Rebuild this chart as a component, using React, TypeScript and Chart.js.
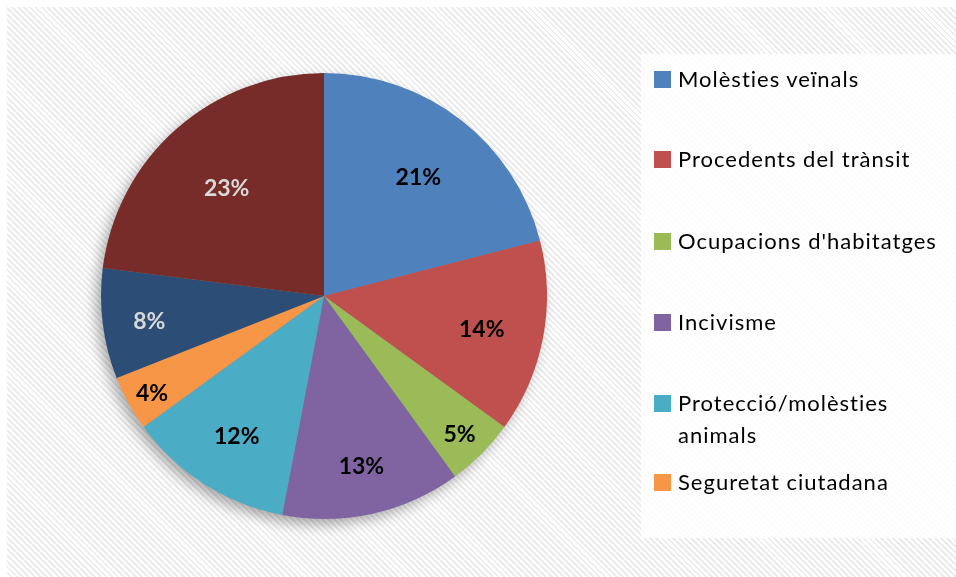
import React, { useEffect, useRef } from "react";
import { Chart, registerables } from "chart.js";

Chart.register(...registerables);

const categories = [
  "Molèsties veïnals",
  "Procedents del trànsit",
  "Ocupacions d'habitatges",
  "Incivisme",
  "Protecció/molèsties animals",
  "Seguretat ciutadana",
  "Altres",
  "Altres (2)",
];
const shares = [21, 14, 5, 13, 12, 4, 8, 23];
const legendCount = 6;

const colors = ["#4F81BD", "#C0504D", "#9BBB59", "#8064A2", "#4BACC6", "#F79646", "#2C4D75", "#772C2A"];
const labelColors = ["#000", "#000", "#000", "#000", "#000", "#000", "#D9D9D9", "#D9D9D9"];
const labelRadius = [0.69, 0.72, 0.86, 0.77, 0.73, 0.88, 0.79, 0.66];
const FONT = "Lato, 'Open Sans', sans-serif";

const shadowPlugin = {
  id: "pieShadow",
  beforeDatasetsDraw(chart: any) {
    const arc = chart.getDatasetMeta(0).data[0];
    if (!arc) return;
    const { x, y, outerRadius } = arc;
    const ctx = chart.ctx;
    ctx.save();
    ctx.shadowColor = "rgba(0,0,0,0.35)";
    ctx.shadowBlur = 14;
    ctx.shadowOffsetX = -5;
    ctx.shadowOffsetY = 6;
    ctx.fillStyle = "#888";
    ctx.beginPath();
    ctx.arc(x, y, outerRadius - 1, 0, Math.PI * 2);
    ctx.fill();
    ctx.restore();
  },
};

const labelPlugin = {
  id: "pctLabels",
  afterDatasetsDraw(chart: any) {
    const ctx = chart.ctx;
    const meta = chart.getDatasetMeta(0);
    const total = shares.reduce((a, b) => a + b, 0);
    ctx.save();
    ctx.font = `bold 23px ${FONT}`;
    ctx.textAlign = "center";
    ctx.textBaseline = "middle";
    meta.data.forEach((arc: any, i: number) => {
      const mid = (arc.startAngle + arc.endAngle) / 2;
      const r = arc.outerRadius * labelRadius[i];
      const px = arc.x + Math.cos(mid) * r;
      const py = arc.y + Math.sin(mid) * r + 3;
      ctx.fillStyle = labelColors[i];
      ctx.fillText(Math.round((shares[i] / total) * 100) + "%", px, py);
    });
    ctx.restore();
  },
};

export default function App() {
  const ref = useRef<HTMLCanvasElement>(null);
  useEffect(() => {
    document.body.style.margin = "0";
    document.body.style.overflow = "hidden";
    if (!ref.current) return;
    const chart = new Chart(ref.current, {
      type: "pie",
      data: {
        labels: categories,
        datasets: [
          {
            data: shares,
            backgroundColor: colors,
            borderWidth: 0,
          },
        ],
      },
      options: {
        animation: false,
        responsive: false,
        layout: { padding: { left: 94, top: 66, right: 409, bottom: 58 } },
        plugins: { legend: { display: false }, tooltip: { enabled: false } },
      },
      plugins: [shadowPlugin, labelPlugin],
    });
    return () => chart.destroy();
  }, []);

  const stripes =
    "repeating-linear-gradient(45deg, #ffffff 0px, #ffffff 2.2px, #ececec 2.2px, #ececec 4.2px)";

  return (
    <div
      style={{
        position: "fixed",
        left: 7,
        top: 7,
        width: 949,
        height: 570,
        background: stripes,
        overflow: "hidden",
      }}
    >
      <canvas ref={ref} width={949} height={570} style={{ position: "absolute", left: 0, top: 0 }} />
      <div
        style={{
          position: "absolute",
          left: 634,
          top: 47,
          width: 315,
          height: 484,
          background: "rgba(255,255,255,0.82)",
          fontFamily: FONT,
          fontSize: 22,
          color: "#000",
        }}
      >
        {categories.slice(0, legendCount).map((c, i) => {
          const tops = [9, 89, 171, 252, 333, 412];
          return (
            <div
              key={c}
              style={{ position: "absolute", left: 13, top: tops[i], width: 300, display: "flex", alignItems: "flex-start" }}
            >
              <span
                style={{
                  display: "inline-block",
                  width: 17,
                  height: 17,
                  background: colors[i],
                  marginTop: 8,
                  marginRight: 7,
                  flex: "none",
                }}
              />
              <span style={{ lineHeight: "32px", letterSpacing: 1 }}>
                {c === "Protecció/molèsties animals" ? (
                  <>
                    Protecció/molèsties
                    <br />
                    animals
                  </>
                ) : (
                  c
                )}
              </span>
            </div>
          );
        })}
      </div>
    </div>
  );
}
